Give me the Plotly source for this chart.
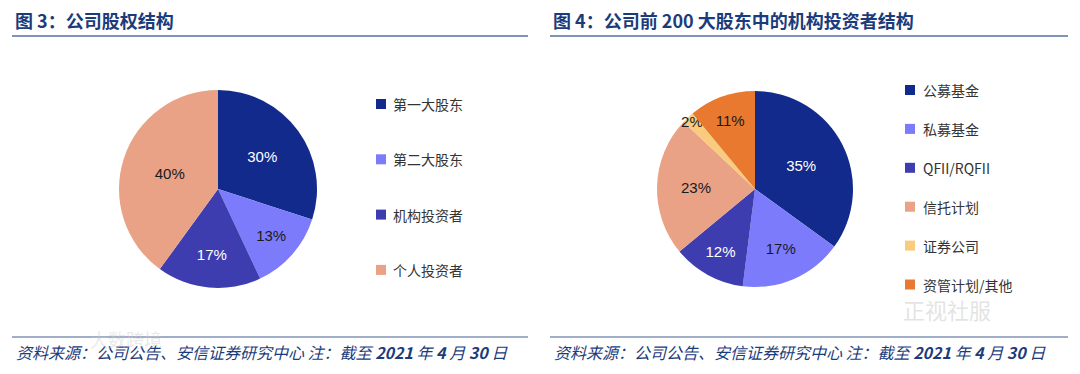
import plotly.graph_objects as go

# ---- data ----
left_title = "图 3：公司股权结构"
left_labels = ["第一大股东", "第二大股东", "机构投资者", "个人投资者"]
left_values = [30, 13, 17, 40]

right_title = "图 4：公司前 200 大股东中的机构投资者结构"
right_labels = ["公募基金", "私募基金", "QFII/RQFII", "信托计划", "证券公司", "资管计划/其他"]
right_values = [35, 17, 12, 23, 2, 11]

footer = "资料来源：公司公告、安信证券研究中心 注：截至 <b>2021</b> 年 <b>4</b> 月 <b>30</b> 日"

# ---- styles ----
NAVY = "#112A8C"
LPURP = "#7B7BFB"
MPURP = "#3E3DB0"
SALMON = "#E9A286"
YELLOW = "#F8CB7D"
ORANGE = "#E8792F"
left_colors = [NAVY, LPURP, MPURP, SALMON]
right_colors = [NAVY, LPURP, MPURP, SALMON, YELLOW, ORANGE]
left_txt = ["white", "#1a1a1a", "white", "#1a1a1a"]
right_txt = ["white", "#1a1a1a", "white", "#1a1a1a", "#1a1a1a", "#1a1a1a"]

TITLE_C = "#1C3B7B"
LINE_C = "#8193B6"
OFF = 8  # page body margin
W, H = 1080 - OFF, 374 - OFF


def px(x):
    return (x - OFF) / W


def py(y):
    return 1 - (y - OFF) / H


fig = go.Figure()

fig.add_trace(go.Pie(
    labels=left_labels, values=left_values, sort=False, direction="clockwise",
    rotation=0, marker=dict(colors=left_colors, line=dict(width=0)),
    texttemplate="%{value}%", textposition="inside",
    insidetextorientation="horizontal",
    textfont=dict(family="Liberation Sans, Arial", size=15, color=left_txt),
    domain=dict(x=[px(119), px(317)], y=[py(288), py(90)]),
    showlegend=False, hoverinfo="label+percent",
))
fig.add_trace(go.Pie(
    labels=right_labels, values=right_values, sort=False, direction="clockwise",
    rotation=0, marker=dict(colors=right_colors, line=dict(width=0)),
    texttemplate="%{value}%", textposition="inside",
    insidetextorientation="horizontal",
    textfont=dict(family="Liberation Sans, Arial", size=15, color=right_txt),
    domain=dict(x=[px(657), px(853)], y=[py(287), py(91)]),
    showlegend=False, hoverinfo="label+percent",
))

shapes = []
ann = []

# titles and rules
for x0, x1, title in [(12, 528, left_title), (550, 1068, right_title)]:
    ann.append(dict(x=px(x0 + 1), y=py(20), xref="paper", yref="paper",
                    xanchor="left", yanchor="middle", showarrow=False,
                    text="<b>" + title + "</b>",
                    font=dict(family="Noto Sans CJK SC", size=18, color=TITLE_C)))
    shapes.append(dict(type="line", xref="paper", yref="paper",
                       x0=px(x0), x1=px(x1), y0=py(36), y1=py(36),
                       line=dict(color=LINE_C, width=2)))
    shapes.append(dict(type="line", xref="paper", yref="paper",
                       x0=px(x0), x1=px(x1), y0=py(337), y1=py(337),
                       line=dict(color=LINE_C, width=1.5)))
    ann.append(dict(x=px(x0 + 2), y=py(352), xref="paper", yref="paper",
                    xanchor="left", yanchor="middle", showarrow=False,
                    text="<i>" + footer + "</i>",
                    font=dict(family="Noto Sans CJK SC", size=16, color=TITLE_C)))

# legends (manual)
def legend(labels, colors, mx, tx, y0, dy):
    for i, (lab, col) in enumerate(zip(labels, colors)):
        yc = y0 + i * dy
        shapes.append(dict(type="rect", xref="paper", yref="paper",
                           x0=px(mx - 5), x1=px(mx + 5), y0=py(yc + 5), y1=py(yc - 5),
                           fillcolor=col, line=dict(width=0)))
        ann.append(dict(x=px(tx), y=py(yc), xref="paper", yref="paper",
                        xanchor="left", yanchor="middle", showarrow=False,
                        text=lab, font=dict(family="Noto Sans CJK SC", size=14, color="#333333")))

legend(left_labels, left_colors, 381, 391, 104, 55.3)
legend(right_labels, right_colors, 910, 921, 90, 38.9)

# faint watermarks
ann.append(dict(x=px(993), y=py(327), xref="paper", yref="paper", showarrow=False,
                text="正视社服", font=dict(family="Noto Sans CJK SC", size=22, color="rgba(200,200,200,0.5)")))
ann.append(dict(x=px(88), y=py(354), xref="paper", yref="paper", showarrow=False,
                text="大数跨境", font=dict(family="Noto Sans CJK SC", size=18, color="rgba(200,200,200,0.4)")))

fig.update_layout(
    width=W, height=H, margin=dict(l=0, r=0, t=0, b=0),
    paper_bgcolor="white", plot_bgcolor="white",
    shapes=shapes, annotations=ann,
    uniformtext=dict(minsize=15, mode="show"),
)

fig.write_html("out.html")
